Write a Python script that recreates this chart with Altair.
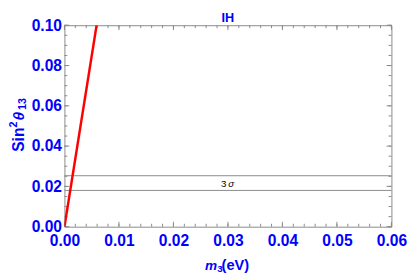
import altair as alt
import pandas as pd

# data
m3_line = [0.0, 0.0059]
s13_line = [0.0, 0.1]
band_levels = [0.0180, 0.0253]
label_x = [0.0298]
label_y = [0.0214]
label_num = ["3"]
label_sym = ["σ"]
x_major = [0.0, 0.01, 0.02, 0.03, 0.04, 0.05, 0.06]
x_minor = [round(i * 0.002, 3) for i in range(31)]
y_major = [0.0, 0.02, 0.04, 0.06, 0.08, 0.10]
y_minor = [round(i * 0.005, 3) for i in range(21)]

W, H = 336, 207
BLUE = "#0000ff"
GRAY = "#8a8a8a"
FONT = "Liberation Sans"

xs = alt.Scale(domain=[0, 0.06], nice=False, zero=False)
ys = alt.Scale(domain=[0, 0.1], nice=False, zero=False)

xaxis = alt.Axis(values=x_major, format=".2f", ticks=False, grid=False, domain=False,
                 labelColor=BLUE, labelFont=FONT, labelFontSize=16, labelFontWeight="bold",
                 labelPadding=6, title=None, labelFlush=False)
yaxis = alt.Axis(values=y_major, format=".2f", ticks=False, grid=False, domain=False,
                 labelColor=BLUE, labelFont=FONT, labelFontSize=16, labelFontWeight="bold",
                 labelPadding=3, title=None)

line_df = pd.DataFrame({"m3": m3_line, "s": s13_line})
band_df = pd.DataFrame({"s": band_levels})
lab_df = pd.DataFrame({"m3": label_x, "s": label_y, "n": label_num, "g": label_sym})
xmaj_df = pd.DataFrame({"v": x_major})
xmin_df = pd.DataFrame({"v": x_minor})
ymaj_df = pd.DataFrame({"v": y_major})
ymin_df = pd.DataFrame({"v": y_minor})

base_line = alt.Chart(line_df).mark_line(color="#ff0000", strokeWidth=2.5, clip=True).encode(
    x=alt.X("m3:Q", scale=xs, axis=xaxis),
    y=alt.Y("s:Q", scale=ys, axis=yaxis),
)

bands = alt.Chart(band_df).mark_rule(color=GRAY, strokeWidth=1).encode(
    y=alt.Y("s:Q", scale=ys),
)

label_n = alt.Chart(lab_df).mark_text(fontSize=10, font=FONT, color="black",
                                      align="right", dx=-0.5, baseline="middle").encode(
    x=alt.X("m3:Q", scale=xs), y=alt.Y("s:Q", scale=ys), text="n:N"
)
label_g = alt.Chart(lab_df).mark_text(fontSize=10, font=FONT, color="black", fontStyle="italic",
                                      align="left", dx=1.5, baseline="middle").encode(
    x=alt.X("m3:Q", scale=xs), y=alt.Y("s:Q", scale=ys), text="g:N"
)

def xticks(df, length):
    bottom = alt.Chart(df).mark_rule(color=GRAY, strokeWidth=1).encode(
        x=alt.X("v:Q", scale=xs), y=alt.value(H), y2=alt.value(H - length))
    top = alt.Chart(df).mark_rule(color=GRAY, strokeWidth=1).encode(
        x=alt.X("v:Q", scale=xs), y=alt.value(0), y2=alt.value(length))
    return bottom + top

def yticks(df, length):
    left = alt.Chart(df).mark_rule(color=GRAY, strokeWidth=1).encode(
        y=alt.Y("v:Q", scale=ys), x=alt.value(0), x2=alt.value(length))
    right = alt.Chart(df).mark_rule(color=GRAY, strokeWidth=1).encode(
        y=alt.Y("v:Q", scale=ys), x=alt.value(W), x2=alt.value(W - length))
    return left + right

# titles with sub/superscripts, built from text pieces
def piece(text, x, y, size, angle=0, italic=False, align="left"):
    return alt.Chart(pd.DataFrame({"t": [text]})).mark_text(
        font=FONT, fontSize=size, fontWeight="bold", color=BLUE,
        fontStyle="italic" if italic else "normal",
        align=align, baseline="alphabetic", angle=angle,
    ).encode(text="t:N", x=alt.value(x), y=alt.value(y))

ytitle = [
    piece("Sin", -42, 130, 16, 270),
    piece("2", -49, 105, 11, 270),
    piece("θ", -42, 98, 16, 270, italic=True),
    piece("13", -39, 87, 11, 270),
]
xtitle = [
    piece("m", 144.5, 251, 14, 0, italic=True),
    piece("3", 157, 253.5, 10),
    piece("(eV)", 161.5, 251, 15),
]
top_title = piece("IH", W / 2, -3.5, 13, align="center")

chart = alt.layer(
    bands, label_n, label_g,
    xticks(xmin_df, 3), xticks(xmaj_df, 5), yticks(ymin_df, 3), yticks(ymaj_df, 5),
    base_line, *ytitle, *xtitle, top_title,
).properties(
    width=W, height=H,
    padding={"left": 0, "top": 0, "right": 0, "bottom": 0},
).configure_view(stroke=GRAY, strokeWidth=1)

chart.save("out.html", embed_options={"renderer": "svg", "actions": False})
